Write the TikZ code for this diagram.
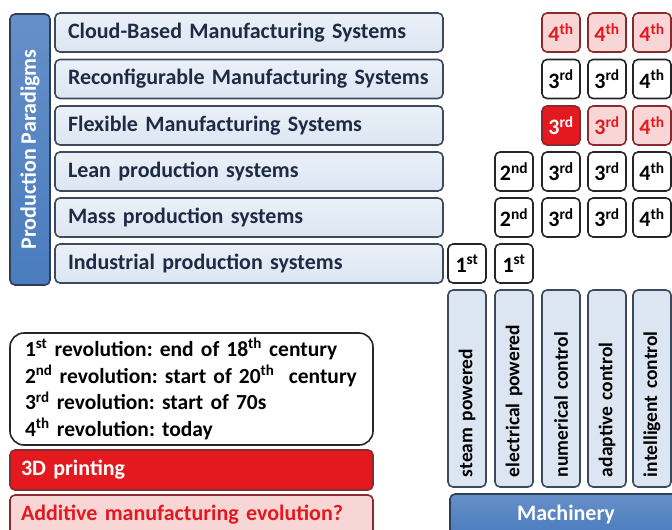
\documentclass[tikz,border=0pt]{standalone}
\usepackage{fontspec}
\setmainfont{Carlito}
\usepackage{tikz}

\definecolor{paraline}{HTML}{3E4A5C}
\definecolor{parafill}{HTML}{DCE6F2}
\definecolor{paratext}{HTML}{1F2B45}
\definecolor{barblue}{HTML}{4A7CBE}
\definecolor{barline}{HTML}{2C3E57}
\definecolor{revred}{HTML}{E3191F}
\definecolor{revpink}{HTML}{F9D6D6}
\definecolor{revline}{HTML}{8A2A2E}

\newcommand{\rev}[2]{#1\textsuperscript{#2}}
\frenchspacing

\begin{document}
\begin{tikzpicture} [x=1pt, y=-1pt,
every node/.style = {shape=rectangle, rounded corners=5pt, line width=1.6pt,
font=\bfseries\fontsize{22}{24}\selectfont},
paradigm/.style = {draw=paraline, top color=parafill!60, bottom color=parafill,
text=paratext, minimum height=39pt, text width=362pt, inner xsep=13pt, align=left},
bar/.style = {draw=barline, top color=barblue!85, bottom color=barblue, text=white},
cell/.style = {draw=black!85, fill=white, minimum width=38pt, minimum height=39pt,
inner sep=0pt},
cellpink/.style = {cell, draw=revline, fill=revpink, text=revred},
cellred/.style = {cell, draw=revline, fill=revred, text=white},
machine/.style = {draw=paraline, fill=parafill, text=black, rotate=90,
minimum width=197pt, minimum height=38pt, text width=177pt, inner xsep=10pt,
inner ysep=0pt, align=left, font=\bfseries\fontsize{19.5}{21}\selectfont},
note/.style = {minimum height=40pt, text width=341pt, inner xsep=11pt, align=left}]
\clip (0,0) rectangle (672,530);

% paradigms
\node (paradigms) [bar, minimum width=271pt, minimum height=40pt, rotate=90]
at (30,149.5) {Production Paradigms};
\node (cloud) [paradigm] at (249,32.5) {Cloud-Based Manufacturing Systems};
\node (reconf) [paradigm] at (249,79) {Reconfigurable Manufacturing Systems};
\node (flex) [paradigm] at (249,125.5) {Flexible Manufacturing Systems};
\node (lean) [paradigm] at (249,171.5) {Lean production systems};
\node (mass) [paradigm] at (249,217.5) {Mass production systems};
\node (indus) [paradigm] at (249,263.5) {Industrial production systems};

% revolutions per paradigm and machinery
\node (cloud3) [cellpink] at (561,32.5) {\rev{4}{th}};
\node (cloud4) [cellpink] at (607,32.5) {\rev{4}{th}};
\node (cloud5) [cellpink] at (652,32.5) {\rev{4}{th}};
\node (reconf3) [cell] at (561,79) {\rev{3}{rd}};
\node (reconf4) [cell] at (607,79) {\rev{3}{rd}};
\node (reconf5) [cell] at (652,79) {\rev{4}{th}};
\node (flex3) [cellred] at (561,125.5) {\rev{3}{rd}};
\node (flex4) [cellpink] at (607,125.5) {\rev{3}{rd}};
\node (flex5) [cellpink] at (652,125.5) {\rev{4}{th}};
\node (lean2) [cell] at (514,171.5) {\rev{2}{nd}};
\node (lean3) [cell] at (561,171.5) {\rev{3}{rd}};
\node (lean4) [cell] at (607,171.5) {\rev{3}{rd}};
\node (lean5) [cell] at (652,171.5) {\rev{4}{th}};
\node (mass2) [cell] at (514,217.5) {\rev{2}{nd}};
\node (mass3) [cell] at (561,217.5) {\rev{3}{rd}};
\node (mass4) [cell] at (607,217.5) {\rev{3}{rd}};
\node (mass5) [cell] at (652,217.5) {\rev{4}{th}};
\node (indus1) [cell] at (467,263.5) {\rev{1}{st}};
\node (indus2) [cell] at (514,263.5) {\rev{1}{st}};

% machinery
\node (steam) [machine] at (467,388.5) {\mbox{steam powered}};
\node (electric) [machine] at (514,388.5) {\mbox{electrical powered}};
\node (numeric) [machine] at (561,388.5) {\mbox{numerical control}};
\node (adaptive) [machine] at (607,388.5) {\mbox{adaptive control}};
\node (intelligent) [machine] at (652,388.5) {\mbox{intelligent control}};
\node (machinery) [bar, minimum width=232pt, minimum height=42pt] at (566,515) {Machinery};

% revolutions and printing
\node (legend) [draw=black!85, fill=white, rounded corners=14pt, text width=333pt,
inner xsep=15pt, minimum height=112pt, align=left,
font=\bfseries\fontsize{21.5}{26.7}\selectfont] at (191.5,389)
{\rev{1}{st} revolution: end of \rev{18}{th} century\\
\rev{2}{nd} revolution: start of \rev{20}{th}~ century\\
\rev{3}{rd} revolution: start of 70s\\
\rev{4}{th} revolution: today};
\node (printing) [note, draw=revline, fill=revred, text=white] at (191.5,470) {3D printing};
\node (additive) [note, draw=revline, fill=revpink, text=revred] at (191.5,515)
{Additive manufacturing evolution?};
\end{tikzpicture}
\end{document}
